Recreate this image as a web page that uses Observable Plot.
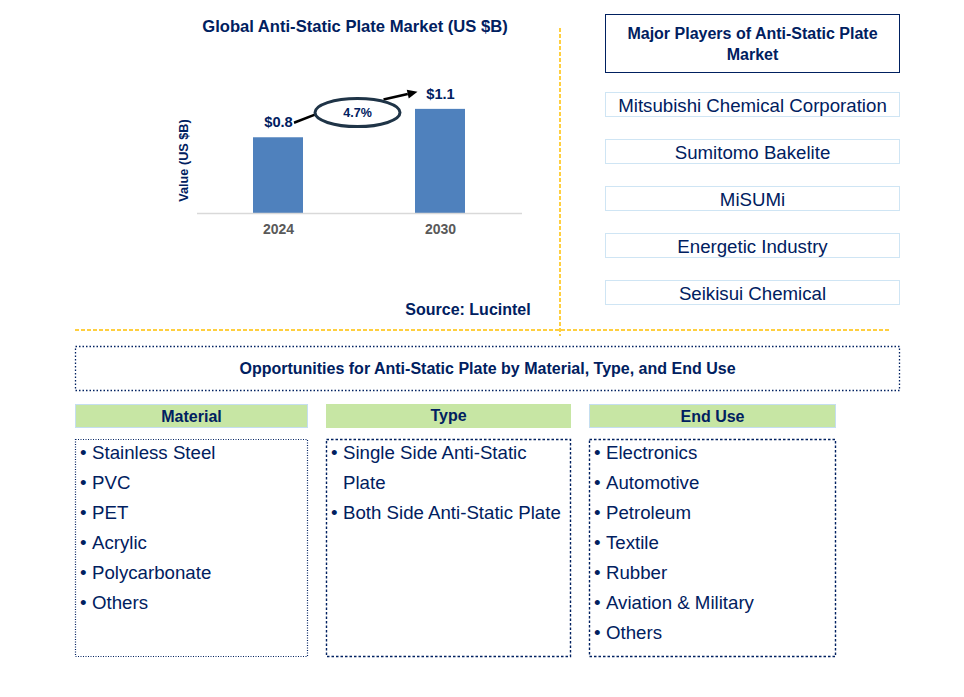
<!DOCTYPE html>
<html>
<head>
<meta charset="utf-8">
<script src="https://cdn.jsdelivr.net/npm/d3@7"></script>
<script src="https://cdn.jsdelivr.net/npm/@observablehq/plot@0.6"></script>
<style>
  html, body { margin: 0; padding: 0; background: #fff; }
  body { font-family: "Liberation Sans", Arial, sans-serif; color: #002060; }
  #page { position: relative; width: 964px; height: 697px; overflow: hidden; background: #fff; }
  .abs { position: absolute; box-sizing: border-box; }
  .title { font-weight: bold; font-size: 16.6px; text-align: center; line-height: 20px; }
  .player { border: 1.5px solid #cfe5f4; font-size: 18.67px; text-align: center; display: flex; align-items: center; justify-content: center; padding-top: 2px; }
  .head { background: #c7e6a4; font-weight: bold; font-size: 16px; text-align: center; line-height: 23px; }
  .item { position: relative; padding-left: 16px; font-size: 18.67px; line-height: 30px; white-space: pre-line; }
  .item::before { content: "•"; position: absolute; left: 4px; top: 0; }
  #deco { position: absolute; left: 0; top: 0; }
</style>
</head>
<body>
<div id="page"></div>
<script>
// ---- data ----
const years = ["2024", "2030"];
const marketValues = [0.8, 1.1];
const cagrLabel = "4.7%";
const chartTitle = "Global Anti-Static Plate Market (US $B)";
const yLabel = "Value (US $B)";
const sourceText = "Source: Lucintel";
const playersTitle = "Major Players of Anti-Static Plate Market";
const players = ["Mitsubishi Chemical Corporation", "Sumitomo Bakelite", "MiSUMi", "Energetic Industry", "Seikisui Chemical"];
const oppTitle = "Opportunities for Anti-Static Plate by Material, Type, and End Use";
const segmentNames = ["Material", "Type", "End Use"];
const materialItems = ["Stainless Steel", "PVC", "PET", "Acrylic", "Polycarbonate", "Others"];
const typeItems = ["Single Side Anti-Static\nPlate", "Both Side Anti-Static Plate"];
const endUseItems = ["Electronics", "Automotive", "Petroleum", "Textile", "Rubber", "Aviation & Military", "Others"];

const page = document.getElementById("page");
const NAVY = "#002060";
const GOLD = "#ffc000";
const FONT = "'Liberation Sans', Arial, sans-serif";

function add(cls, styles, text) {
  const d = document.createElement("div");
  d.className = "abs " + cls;
  Object.assign(d.style, styles);
  if (text != null) d.textContent = text;
  page.appendChild(d);
  return d;
}

// ---- decorative layer (separators and dotted frames) ----
const deco = d3.create("svg").attr("id", "deco").attr("width", 964).attr("height", 697);
deco.append("line").attr("x1", 560).attr("x2", 560).attr("y1", 28).attr("y2", 336)
  .attr("stroke", GOLD).attr("stroke-width", 1.5).attr("stroke-dasharray", "4,2");
deco.append("line").attr("x1", 75).attr("x2", 889).attr("y1", 330).attr("y2", 330)
  .attr("stroke", GOLD).attr("stroke-width", 1.5).attr("stroke-dasharray", "4,2");
page.appendChild(deco.node());

// ---- bar chart ----
const data = years.map((year, i) => ({year, value: marketValues[i]}));

function cagrMark(index, scales) {
  const {x, y} = scales;
  const bw = x.bandwidth();
  const x0 = x(years[0]) + bw / 2, x1 = x(years[1]) + bw / 2;
  const y0 = y(marketValues[0]), y1 = y(marketValues[1]);
  const cx = (x0 + x1) / 2 - 1.5, cy = (y0 + y1) / 2 - 10.5;
  const g = d3.create("svg:g");
  g.append("line")
    .attr("x1", x0 + 16).attr("y1", y0 - 14.5)
    .attr("x2", cx - 40).attr("y2", cy + 1)
    .attr("stroke", "#000").attr("stroke-width", 2.5);
  const ax1 = cx + 26, ay1 = cy - 13, ax2 = x1 - 22.5, ay2 = y1 - 17;
  const ang = Math.atan2(ay2 - ay1, ax2 - ax1);
  const hl = 10, hw = 4.5;
  const bx = ax2 - hl * Math.cos(ang), by = ay2 - hl * Math.sin(ang);
  g.append("line")
    .attr("x1", ax1).attr("y1", ay1).attr("x2", bx).attr("y2", by)
    .attr("stroke", "#000").attr("stroke-width", 2.5);
  g.append("path")
    .attr("d", `M${ax2},${ay2}L${bx - hw * Math.sin(ang)},${by + hw * Math.cos(ang)}L${bx + hw * Math.sin(ang)},${by - hw * Math.cos(ang)}Z`)
    .attr("fill", "#000");
  g.append("ellipse")
    .attr("cx", cx).attr("cy", cy).attr("rx", 42.5).attr("ry", 14)
    .attr("fill", "#fff").attr("stroke", "#1f3447").attr("stroke-width", 3);
  g.append("text")
    .attr("x", cx).attr("y", cy).attr("dy", "0.35em")
    .attr("text-anchor", "middle").attr("font-size", 12.5).attr("font-weight", "bold")
    .attr("fill", NAVY).attr("font-family", FONT)
    .text(cagrLabel);
  return g.node();
}

const chart = Plot.plot({
  width: 560,
  height: 250,
  marginLeft: 197,
  marginRight: 38,
  marginTop: 71,
  marginBottom: 37,
  style: {fontFamily: FONT, background: "transparent", overflow: "visible"},
  x: {domain: years, paddingInner: 0.69, paddingOuter: 0.345, label: null},
  y: {domain: [0, 1.5], axis: null},
  marks: [
    Plot.barY(data, {x: "year", y: "value", fill: "#4f81bd"}),
    Plot.ruleY([0], {stroke: "#d9d9d9", strokeWidth: 1.5}),
    Plot.axisX({tickSize: 0, tickPadding: 11, fontSize: 14, fontWeight: "bold", color: "#595959", label: null}),
    Plot.text(data, {x: "year", y: "value", text: d => "$" + d.value.toFixed(1), dy: -15, fontSize: 14.67, fontWeight: "bold", fill: NAVY}),
    Plot.text([yLabel], {frameAnchor: "left", textAnchor: "middle", rotate: -90, dx: -14, dy: 18, fontSize: 12.7, fontWeight: "bold", fill: NAVY}),
    cagrMark
  ]
});
chart.style.position = "absolute";
chart.style.left = "0px";
chart.style.top = "0px";
page.appendChild(chart);

add("title", {left: "155px", top: "17px", width: "400px"}, chartTitle);
add("title", {left: "386px", top: "300px", width: "164px", fontSize: "16px", textAlign: "center"}, sourceText);

// ---- players ----
add("", {left: "605px", top: "14px", width: "295px", height: "59px", border: "1.5px solid " + NAVY,
  display: "flex", alignItems: "center", justifyContent: "center", textAlign: "center",
  fontWeight: "bold", fontSize: "16px", lineHeight: "21px", padding: "0 4px"}, playersTitle);
players.forEach((p, i) => {
  add("player", {left: "605px", top: (92 + i * 47) + "px", width: "295px", height: "25px"}, p);
});

// ---- opportunities ----
add("", {left: "75px", top: "346px", width: "825px", height: "45px",
  display: "flex", alignItems: "center", justifyContent: "center", fontWeight: "bold", fontSize: "16px"}, oppTitle);
deco.append("rect").attr("x", 75.5).attr("y", 346.5).attr("width", 824).attr("height", 44)
  .attr("fill", "none").attr("stroke", NAVY).attr("stroke-width", 1.3).attr("stroke-dasharray", "1.5,2");

const cols = [
  {left: 75, width: 233, items: materialItems, dash: "1,1.5", sw: 1.2},
  {left: 326, width: 245, items: typeItems, dash: "2.5,2", sw: 1.4},
  {left: 589, width: 247, items: endUseItems, dash: "2.5,2", sw: 1.4}
];
cols.forEach((c, i) => {
  add("head", {left: c.left + "px", top: "404px", width: c.width + "px", height: "24px",
    border: i === 1 ? "none" : "1px solid #c5def0"}, segmentNames[i]);
  deco.append("rect").attr("x", c.left + 0.5).attr("y", 439.5).attr("width", c.width - 1).attr("height", 217)
    .attr("fill", "none").attr("stroke", NAVY).attr("stroke-width", c.sw).attr("stroke-dasharray", c.dash);
  const box = add("", {left: c.left + "px", top: "439px", width: c.width + "px", height: "218px"});
  const inner = document.createElement("div");
  inner.style.position = "absolute";
  inner.style.left = "1px";
  inner.style.top = "-1px";
  inner.style.right = "0px";
  c.items.forEach(t => {
    const it = document.createElement("div");
    it.className = "item";
    it.textContent = t;
    inner.appendChild(it);
  });
  box.appendChild(inner);
});
</script>
</body>
</html>
